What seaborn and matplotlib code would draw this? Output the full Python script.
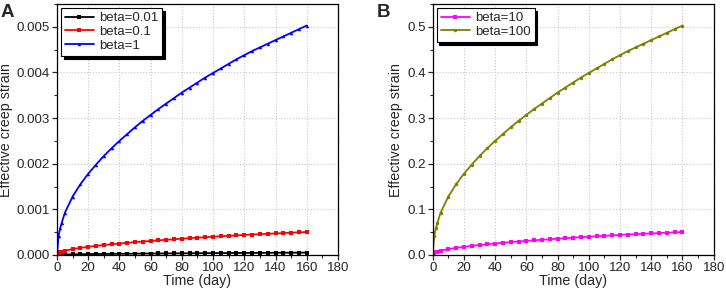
import pandas as pd
import matplotlib
matplotlib.use("Agg")
import matplotlib.pyplot as plt
from matplotlib.ticker import MultipleLocator
import seaborn as sns

# values
days = [0, 1, 2, 3, 5, 10, 15, 20, 25, 30, 35, 40, 45, 50, 55, 60, 65, 70, 75, 80,
        85, 90, 95, 100, 105, 110, 115, 120, 125, 130, 135, 140, 145, 150, 155, 160]

# panel A
beta_001 = [0, 0.0000042, 0.0000058, 0.000007, 0.0000092, 0.0000128, 0.0000155, 0.0000178,
            0.0000198, 0.0000217, 0.0000234, 0.000025, 0.0000265, 0.000028, 0.0000294,
            0.0000307, 0.000032, 0.0000332, 0.0000344, 0.0000356, 0.0000367, 0.0000378,
            0.0000389, 0.0000399, 0.0000409, 0.0000419, 0.0000429, 0.0000438, 0.0000447,
            0.0000455, 0.0000463, 0.0000471, 0.0000479, 0.0000487, 0.0000495, 0.0000503]
beta_01 = [0, 0.000042, 0.000058, 0.00007, 0.000092, 0.000128, 0.000155, 0.000178,
           0.000198, 0.000217, 0.000234, 0.00025, 0.000265, 0.00028, 0.000294,
           0.000307, 0.00032, 0.000332, 0.000344, 0.000356, 0.000367, 0.000378,
           0.000389, 0.000399, 0.000409, 0.000419, 0.000429, 0.000438, 0.000447,
           0.000455, 0.000463, 0.000471, 0.000479, 0.000487, 0.000495, 0.000503]
beta_1 = [0, 0.00042, 0.00058, 0.0007, 0.00092, 0.00128, 0.00155, 0.00178, 0.00198,
          0.00217, 0.00234, 0.0025, 0.00265, 0.0028, 0.00294, 0.00307, 0.0032, 0.00332,
          0.00344, 0.00356, 0.00367, 0.00378, 0.00389, 0.00399, 0.00409, 0.00419,
          0.00429, 0.00438, 0.00447, 0.00455, 0.00463, 0.00471, 0.00479, 0.00487,
          0.00495, 0.00503]

# panel B
beta_10 = [0, 0.0042, 0.0058, 0.007, 0.0092, 0.0128, 0.0155, 0.0178, 0.0198, 0.0217,
           0.0234, 0.025, 0.0265, 0.028, 0.0294, 0.0307, 0.032, 0.0332, 0.0344, 0.0356,
           0.0367, 0.0378, 0.0389, 0.0399, 0.0409, 0.0419, 0.0429, 0.0438, 0.0447,
           0.0455, 0.0463, 0.0471, 0.0479, 0.0487, 0.0495, 0.0503]
beta_100 = [0, 0.042, 0.058, 0.07, 0.092, 0.128, 0.155, 0.178, 0.198, 0.217, 0.234, 0.25,
            0.265, 0.28, 0.294, 0.307, 0.32, 0.332, 0.344, 0.356, 0.367, 0.378, 0.389,
            0.399, 0.409, 0.419, 0.429, 0.438, 0.447, 0.455, 0.463, 0.471, 0.479, 0.487,
            0.495, 0.503]

sns.set_style("ticks")
plt.rcParams['font.family'] = ['Liberation Sans', 'DejaVu Sans']
plt.rcParams['xtick.direction'] = 'out'
plt.rcParams['ytick.direction'] = 'out'

fig = plt.figure(figsize=(7.26, 2.92), dpi=100)
axA = fig.add_axes([0.0785, 0.127, 0.387, 0.859])
axB = fig.add_axes([0.596, 0.127, 0.387, 0.859])

panelA = [("beta=0.01", beta_001, "black", "s"),
          ("beta=0.1", beta_01, "red", "s"),
          ("beta=1", beta_1, "blue", "^")]
panelB = [("beta=10", beta_10, "magenta", "s"),
          ("beta=100", beta_100, "#808000", "o")]

for ax, series in [(axA, panelA), (axB, panelB)]:
    for label, vals, color, mk in series:
        df = pd.DataFrame({'t': days, 'v': vals})
        sns.lineplot(data=df, x='t', y='v', ax=ax, color=color, marker=mk,
                     markersize=2.5, markeredgewidth=0, linewidth=1.3, label=label)

axA.set_ylim(0, 0.0055)
axA.yaxis.set_major_locator(MultipleLocator(0.001))
axA.yaxis.set_minor_locator(MultipleLocator(0.0005))
axA.yaxis.set_major_formatter(matplotlib.ticker.FormatStrFormatter('%.3f'))
axB.set_ylim(0, 0.55)
axB.yaxis.set_major_locator(MultipleLocator(0.1))
axB.yaxis.set_minor_locator(MultipleLocator(0.05))
axB.yaxis.set_major_formatter(matplotlib.ticker.FormatStrFormatter('%.1f'))

for ax, letter in [(axA, "A"), (axB, "B")]:
    ax.set_xlim(0, 180)
    ax.xaxis.set_major_locator(MultipleLocator(20))
    ax.xaxis.set_minor_locator(MultipleLocator(10))
    ax.grid(True, which='major', linestyle=':', color='#c8c8c8', linewidth=0.8)
    ax.tick_params(which='major', length=3.5, width=0.9, labelsize=9.6, pad=1.5)
    ax.tick_params(which='minor', length=2, width=0.8)
    for s in ax.spines.values():
        s.set_color('black')
        s.set_linewidth(0.9)
    ax.set_xlabel("Time (day)", fontsize=10.3, labelpad=0)
    ax.set_ylabel("Effective creep strain", fontsize=10.3, labelpad=3)
    leg = ax.legend(loc='upper left', fontsize=9.5, frameon=True, fancybox=False,
                    shadow={'color': 'black', 'alpha': 1}, edgecolor='black',
                    handlelength=2.2, borderpad=0.3, labelspacing=0.12,
                    handletextpad=0.4, borderaxespad=0.3)
    leg.get_frame().set_linewidth(0.8)
    ax.text(-0.2, 1.0, letter, transform=ax.transAxes, fontsize=13.5,
            fontweight='bold', va='top', ha='left')

fig.savefig("out.png", dpi=100)
